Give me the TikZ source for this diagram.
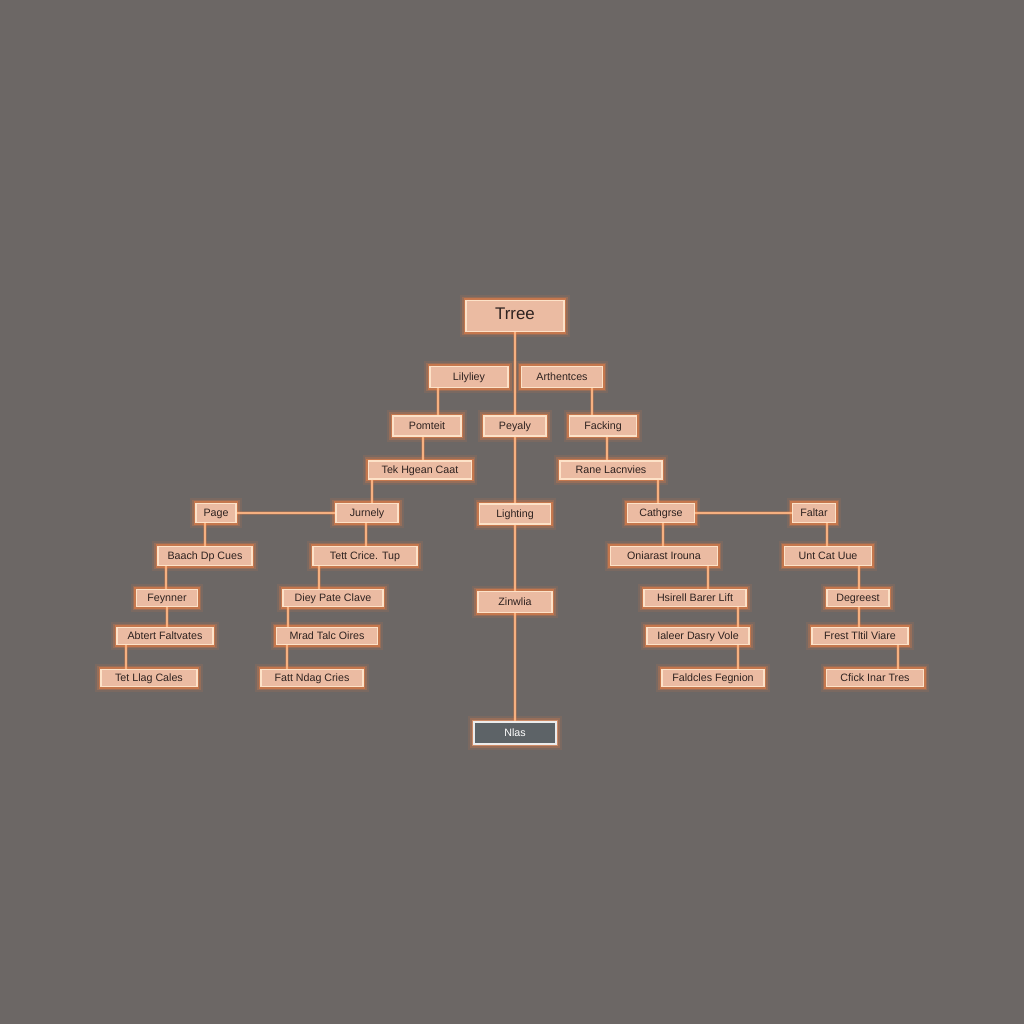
\documentclass[tikz,border=0pt]{standalone}
\usepackage{fontspec}
\setmainfont{Liberation Sans}
\usepackage{tikz}
\usetikzlibrary{positioning}
\definecolor{bgc}{HTML}{6C6765}
\definecolor{boxfill}{HTML}{EBBBA2}
\definecolor{boxline}{HTML}{FDE2C8}
\definecolor{glowc}{HTML}{FF8440}
\definecolor{wirec}{HTML}{F6B080}
\definecolor{txtc}{HTML}{2E2220}
\definecolor{darkbox}{HTML}{5D6367}
\tikzstyle{box} = [draw=boxline, fill=boxfill, line width=0.9pt, text=txtc,
    rectangle, inner sep=1pt, minimum height=0.48cm, font=\fontsize{7.6}{9}\selectfont,
    text height=0.72em, text depth=0.2em,
    preaction={draw=glowc, line width=8pt, opacity=.10},
    preaction={draw=glowc, line width=5pt, opacity=.22},
    preaction={draw=glowc, line width=2.8pt, opacity=.45}]
\tikzstyle{wire} = [draw=wirec, line width=1pt,
    preaction={draw=glowc, line width=3pt, opacity=.25}]

\begin{document}
\begin{tikzpicture}[x=0.025cm, y=-0.025cm]

\fill[bgc] (0,0) rectangle (1024,1024);
\useasboundingbox (0,0) rectangle (1024,1024);

% top of the tree
\node [box, minimum width=2.45cm, minimum height=0.78cm, font=\fontsize{12}{14}\selectfont] (tree) at (515,316) {Trree};
\node [box, minimum width=1.95cm, minimum height=0.53cm] (lily) at (469,377) {Lilyliey};
\node [box, minimum width=2.03cm, minimum height=0.53cm] (arth) at (562,377) {Arthentces};
\node [box, minimum width=1.70cm, minimum height=0.5cm] (pomt) at (427,426) {Pomteit};
\node [box, minimum width=1.55cm, minimum height=0.5cm] (peya) at (515,426) {Peyaly};
\node [box, minimum width=1.68cm, minimum height=0.5cm] (fack) at (603,426) {Facking};
\node [box, minimum width=2.58cm, minimum height=0.45cm] (tekh) at (420,470) {Tek Hgean Caat};
\node [box, minimum width=2.55cm, minimum height=0.45cm] (rane) at (611,470) {Rane Lacnvies};

% middle row
\node [box, minimum width=1.00cm] (page) at (216,513) {Page};
\node [box, minimum width=1.55cm] (jurn) at (367,513) {Jurnely};
\node [box, minimum width=1.78cm, minimum height=0.5cm] (ligh) at (515,514) {Lighting};
\node [box, minimum width=1.68cm] (cath) at (661,513) {Cathgrse};
\node [box, minimum width=1.08cm] (falt) at (814,513) {Faltar};

\node [box, minimum width=2.35cm] (baac) at (205,556) {Baach Dp Cues};
\node [box, minimum width=2.60cm] (tett) at (365,556) {Tett Crice. Tup};
\node [box, minimum width=2.68cm] (onia) at (664,556) {Oniarast Irouna};
\node [box, minimum width=2.18cm] (untc) at (828,556) {Unt Cat Uue};

\node [box, minimum width=1.53cm, minimum height=0.43cm] (feyn) at (167,598) {Feynner};
\node [box, minimum width=2.50cm, minimum height=0.43cm] (diey) at (333,598) {Diey Pate Clave};
\node [box, minimum width=1.85cm, minimum height=0.53cm] (zinw) at (515,602) {Zinwlia};
\node [box, minimum width=2.55cm, minimum height=0.43cm] (hsir) at (695,598) {Hsirell Barer Lift};
\node [box, minimum width=1.55cm, minimum height=0.43cm] (degr) at (858,598) {Degreest};

% bottom rows
\node [box, minimum width=2.40cm, minimum height=0.43cm] (abte) at (165,636) {Abtert Faltvates};
\node [box, minimum width=2.53cm, minimum height=0.43cm] (mrad) at (327,636) {Mrad Talc Oires};
\node [box, minimum width=2.55cm, minimum height=0.43cm] (iale) at (698,636) {Ialeer Dasry Vole};
\node [box, minimum width=2.40cm, minimum height=0.43cm] (fres) at (860,636) {Frest Tltil Viare};

\node [box, minimum width=2.40cm, minimum height=0.43cm] (tetl) at (149,678) {Tet Llag Cales};
\node [box, minimum width=2.55cm, minimum height=0.43cm] (fatt) at (312,678) {Fatt Ndag Cries};
\node [box, minimum width=2.55cm, minimum height=0.43cm] (fald) at (713,678) {Faldcles Fegnion};
\node [box, minimum width=2.43cm, minimum height=0.43cm] (cfic) at (875,678) {Cfick Inar Tres};

\node [box, fill=darkbox, draw=white!85!gray, text=white, minimum width=2.05cm, minimum height=0.55cm,
    preaction={draw=white, line width=3pt, opacity=.15}] (nlas) at (515,733) {Nlas};

% trunk
\draw [wire] (tree.south) -- (peya.north);
\draw [wire] (peya.south) -- (ligh.north);
\draw [wire] (ligh.south) -- (zinw.north);
\draw [wire] (zinw.south) -- (nlas.north);

% left branch
\draw [wire] (438,0 |- lily.south) -- (438,0 |- pomt.north);
\draw [wire] (423,0 |- pomt.south) -- (423,0 |- tekh.north);
\draw [wire] (372,0 |- tekh.south) -- (372,0 |- jurn.north);
\draw [wire] (page.east) -- (jurn.west);
\draw [wire] (205,0 |- page.south) -- (205,0 |- baac.north);
\draw [wire] (366,0 |- jurn.south) -- (366,0 |- tett.north);
\draw [wire] (166,0 |- baac.south) -- (166,0 |- feyn.north);
\draw [wire] (319,0 |- tett.south) -- (319,0 |- diey.north);
\draw [wire] (167,0 |- feyn.south) -- (167,0 |- abte.north);
\draw [wire] (288,0 |- diey.south) -- (288,0 |- mrad.north);
\draw [wire] (126,0 |- abte.south) -- (126,0 |- tetl.north);
\draw [wire] (287,0 |- mrad.south) -- (287,0 |- fatt.north);

% right branch
\draw [wire] (592,0 |- arth.south) -- (592,0 |- fack.north);
\draw [wire] (607,0 |- fack.south) -- (607,0 |- rane.north);
\draw [wire] (658,0 |- rane.south) -- (658,0 |- cath.north);
\draw [wire] (cath.east) -- (falt.west);
\draw [wire] (663,0 |- cath.south) -- (663,0 |- onia.north);
\draw [wire] (827,0 |- falt.south) -- (827,0 |- untc.north);
\draw [wire] (708,0 |- onia.south) -- (708,0 |- hsir.north);
\draw [wire] (859,0 |- untc.south) -- (859,0 |- degr.north);
\draw [wire] (738,0 |- hsir.south) -- (738,0 |- iale.north);
\draw [wire] (859,0 |- degr.south) -- (859,0 |- fres.north);
\draw [wire] (738,0 |- iale.south) -- (738,0 |- fald.north);
\draw [wire] (898,0 |- fres.south) -- (898,0 |- cfic.north);

\end{tikzpicture}
\end{document}
